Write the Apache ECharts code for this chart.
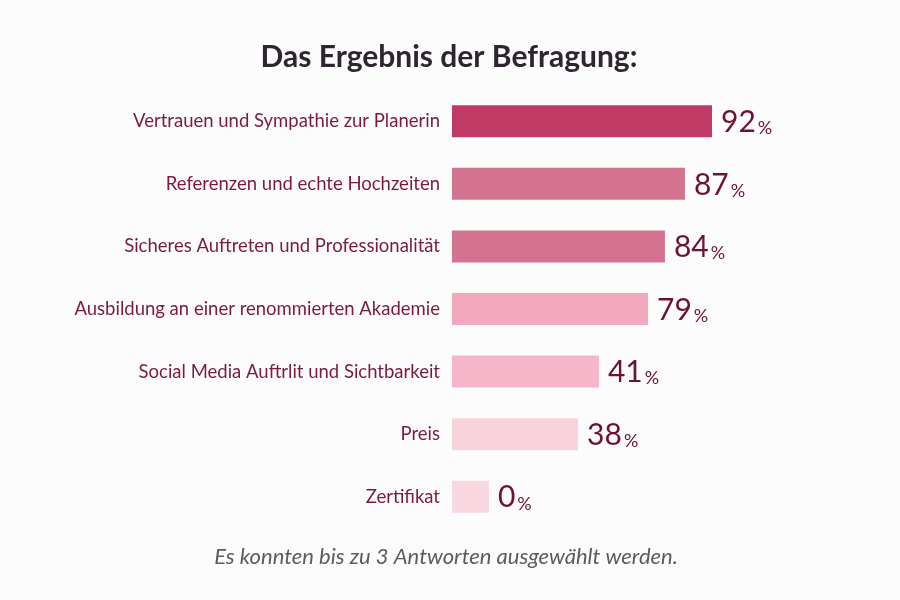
<!DOCTYPE html>
<html>
<head>
<meta charset="utf-8">
<script src="https://cdn.jsdelivr.net/npm/echarts@6/dist/echarts.min.js"></script>
<style>
html,body{margin:0;padding:0;background:#fdfcfc;}
#main{width:900px;height:600px;}
</style>
</head>
<body>
<div id="main"></div>
<script>
const categories = [
  'Vertrauen und Sympathie zur Planerin',
  'Referenzen und echte Hochzeiten',
  'Sicheres Auftreten und Professionalität',
  'Ausbildung an einer renommierten Akademie',
  'Social Media Auftrlit und Sichtbarkeit',
  'Preis',
  'Zertifikat'
];
// Percentages as printed
const percentValues = [92, 87, 84, 79, 41, 38, 0];
// Drawn bar lengths (relative, longest bar = 100)
const barLengths = [100, 89.6, 81.9, 75.4, 56.5, 48.5, 14.2];
const barColors = ['#C03A66', '#D4738F', '#D4738F', '#F2A8BD', '#F4B6C8', '#F8D3DC', '#F9D7E0'];

const chart = echarts.init(document.getElementById('main'));
const font = 'Lato';
chart.setOption({
  backgroundColor: '#fdfcfc',
  title: [{
    text: 'Das Ergebnis der Befragung:',
    left: 444, top: 37, textAlign: 'center',
    textStyle: {fontFamily: font, fontSize: 30, fontWeight: 'bold', color: '#2f2530'}
  }, {
    text: 'Es konnten bis zu 3 Antworten ausgewählt werden.',
    left: 441, top: 541, textAlign: 'center',
    textStyle: {fontFamily: font, fontSize: 22, fontStyle: 'italic', fontWeight: 'normal', color: '#5e5a5e'}
  }],
  grid: {left: 452, width: 260, top: 90, bottom: 72},
  xAxis: {type: 'value', min: 0, max: 100, show: false},
  yAxis: {
    type: 'category', data: categories, inverse: true,
    axisLine: {show: false}, axisTick: {show: false},
    axisLabel: {margin: 12, fontFamily: font, fontSize: 18.5, color: '#7b1a3c'}
  },
  series: [{
    type: 'bar',
    barWidth: 32,
    data: barLengths.map((v, i) => ({value: v, itemStyle: {color: barColors[i]}})),
    label: {
      show: true, position: 'right', distance: 9,
      formatter: p => '{n|' + percentValues[p.dataIndex] + '}{p|%}',
      rich: {
        n: {fontFamily: font, fontSize: 30, color: '#6d1232', verticalAlign: 'bottom', lineHeight: 32},
        p: {fontFamily: font, fontSize: 18, color: '#6d1232', verticalAlign: 'bottom', lineHeight: 30, padding: [0,0,0,2]}
      }
    }
  }]
});
</script>
</body>
</html>
